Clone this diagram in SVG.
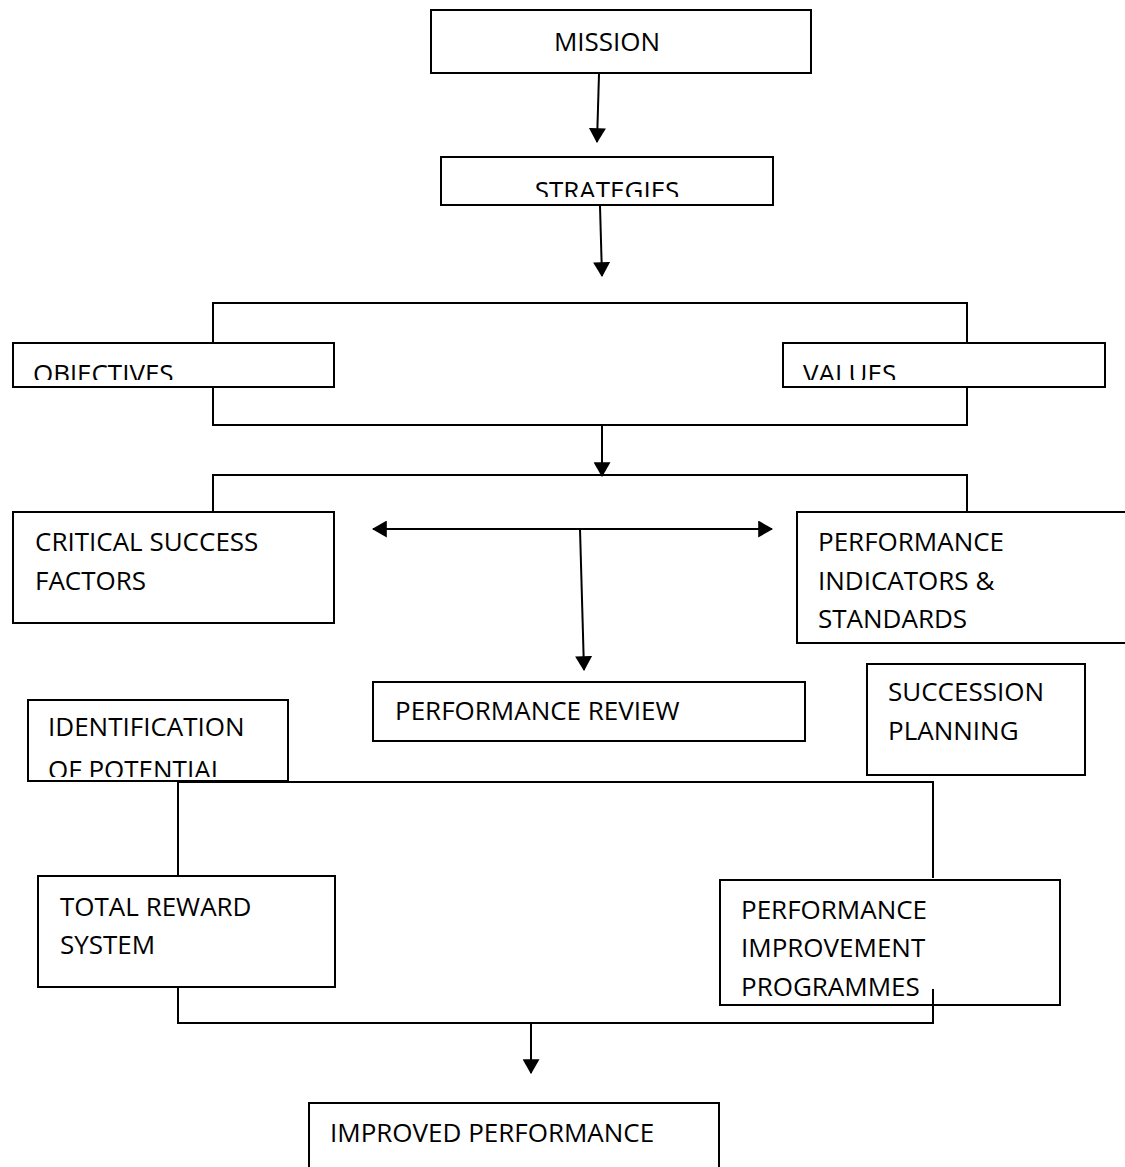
<svg xmlns="http://www.w3.org/2000/svg" width="1125" height="1167" viewBox="0 0 1125 1167">
<style>
.box{fill:#fff;stroke:#000;stroke-width:2}
.t{font-family:"Open Sans","Liberation Sans",sans-serif;font-size:26px;fill:#000}
.ln{fill:none;stroke:#000;stroke-width:2}
</style>
<defs>
<marker id="ah" viewBox="0 0 14 16" refX="13" refY="8" markerWidth="15" markerHeight="17" markerUnits="userSpaceOnUse" orient="auto">
<path d="M0,0 L14,8 L0,16 Z" fill="#000"/>
</marker>
<marker id="ahs" viewBox="0 0 14 16" refX="1" refY="8" markerWidth="15" markerHeight="17" markerUnits="userSpaceOnUse" orient="auto">
<path d="M14,0 L0,8 L14,16 Z" fill="#000"/>
</marker>
<clipPath id="cs"><rect x="441" y="157" width="332" height="40"/></clipPath>
<clipPath id="co"><rect x="13" y="343" width="321" height="37"/></clipPath>
<clipPath id="cv"><rect x="783" y="343" width="322" height="37"/></clipPath>
<clipPath id="ci"><rect x="28" y="700" width="260" height="77"/></clipPath>
</defs>
<g id="connectors">
<line class="ln" x1="599" y1="74" x2="597" y2="142" marker-end="url(#ah)"/>
<line class="ln" x1="600" y1="206" x2="602" y2="276" marker-end="url(#ah)"/>
<polyline class="ln" points="213,343 213,303 967,303 967,343"/>
<polyline class="ln" points="213,387 213,425 967,425 967,387"/>
<line class="ln" x1="602" y1="425" x2="602" y2="476" marker-end="url(#ah)"/>
<polyline class="ln" points="213,512 213,475 967,475 967,512"/>
<line class="ln" x1="373" y1="529" x2="772" y2="529" stroke-width="3" marker-start="url(#ahs)" marker-end="url(#ah)"/>
<line class="ln" x1="580" y1="529" x2="584" y2="670" marker-end="url(#ah)"/>
<polyline class="ln" points="178,876 178,782 933,782 933,878"/>
<polyline class="ln" points="178,987 178,1023 933,1023 933,989"/>
<line class="ln" x1="531" y1="1023" x2="531" y2="1073" marker-end="url(#ah)"/>
</g>
<g id="mission"><rect class="box" x="431" y="10" width="380" height="63"/><text class="t" x="607" y="51" text-anchor="middle">MISSION</text></g>
<g id="strategies"><rect class="box" x="441" y="157" width="332" height="48"/><text class="t" x="607" y="200" text-anchor="middle" clip-path="url(#cs)">STRATEGIES</text></g>
<g id="objectives"><rect class="box" x="13" y="343" width="321" height="44"/><text class="t" x="33" y="383" clip-path="url(#co)">OBJECTIVES</text></g>
<g id="values"><rect class="box" x="783" y="343" width="322" height="44"/><text class="t" x="803" y="383" clip-path="url(#cv)">VALUES</text></g>
<g id="csf"><rect class="box" x="13" y="512" width="321" height="111"/><text class="t" x="35" y="551">CRITICAL SUCCESS</text><text class="t" x="35" y="590">FACTORS</text></g>
<g id="pis"><path class="ln" d="M1126,512 L797,512 L797,643 L1126,643"/><text class="t" x="818" y="551">PERFORMANCE</text><text class="t" x="818" y="590">INDICATORS &amp;</text><text class="t" x="818" y="628">STANDARDS</text></g>
<g id="review"><rect class="box" x="373" y="682" width="432" height="59"/><text class="t" x="395" y="720">PERFORMANCE REVIEW</text></g>
<g id="succession"><rect class="box" x="867" y="664" width="218" height="111"/><text class="t" x="888" y="701">SUCCESSION</text><text class="t" x="888" y="740">PLANNING</text></g>
<g id="identification"><rect class="box" x="28" y="700" width="260" height="81"/><text class="t" x="48" y="736">IDENTIFICATION</text><text class="t" x="48" y="779" clip-path="url(#ci)">OF POTENTIAL</text></g>
<g id="reward"><rect class="box" x="38" y="876" width="297" height="111"/><text class="t" x="60" y="916">TOTAL REWARD</text><text class="t" x="60" y="954">SYSTEM</text></g>
<g id="improvement"><rect class="box" x="720" y="880" width="340" height="125"/><text class="t" x="741" y="919">PERFORMANCE</text><text class="t" x="741" y="957">IMPROVEMENT</text><text class="t" x="741" y="996">PROGRAMMES</text><line class="ln" x1="933" y1="989" x2="933" y2="1005"/></g>
<g id="improved"><rect class="box" x="309" y="1103" width="410" height="70"/><text class="t" x="330" y="1142">IMPROVED PERFORMANCE</text></g>
</svg>
